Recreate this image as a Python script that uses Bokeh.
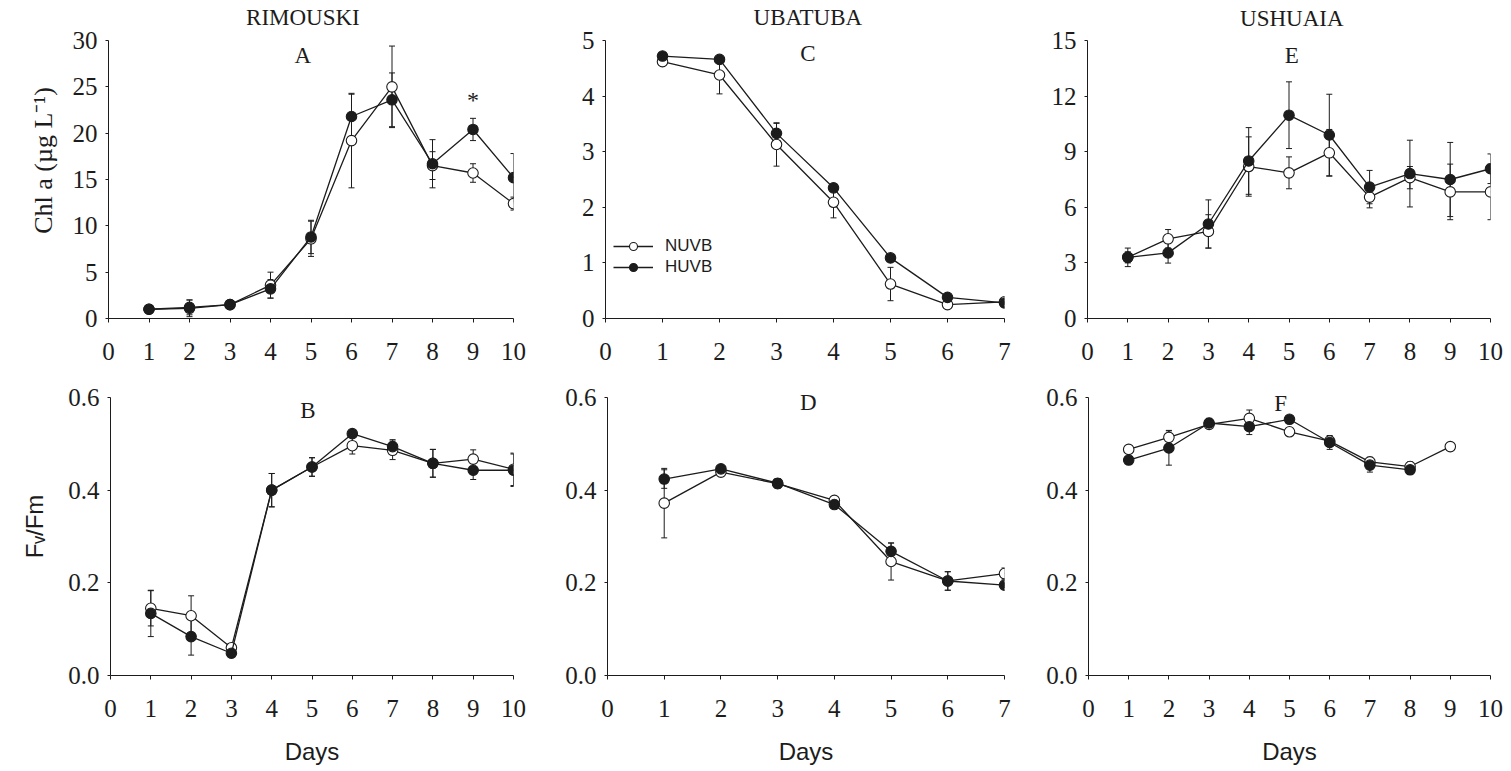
from bokeh.plotting import figure
from bokeh.models import (Range1d, FixedTicker, PrintfTickFormatter, Whisker,
                          ColumnDataSource, Label, Legend, LegendItem)
from bokeh.layouts import row, column
from bokeh.embed import file_html
from bokeh.resources import INLINE

# ---------------- data ----------------
days10 = [1, 2, 3, 4, 5, 6, 7, 8, 9, 10]
days7 = [1, 2, 3, 4, 5, 6, 7]
days9 = [1, 2, 3, 4, 5, 6, 7, 8, 9]
days8 = [1, 2, 3, 4, 5, 6, 7, 8]

# A: Rimouski Chl a
A_nuvb = [1.0, 1.1, 1.5, 3.6, 8.6, 19.2, 25.0, 16.5, 15.7, 12.4]
A_nuvb_err = [0.3, 0.9, 0.3, 1.4, 1.9, 5.1, 4.4, 1.5, 1.0, 0.7]
A_huvb = [1.0, 1.2, 1.5, 3.2, 8.8, 21.8, 23.6, 16.7, 20.4, 15.2]
A_huvb_err = [0.3, 0.8, 0.4, 1.0, 1.8, 2.4, 2.9, 2.6, 1.2, 2.6]

# C: Ubatuba Chl a
C_nuvb = [4.62, 4.38, 3.13, 2.09, 0.62, 0.25, 0.30]
C_nuvb_err = [0.03, 0.34, 0.39, 0.28, 0.30, 0.03, 0.05]
C_huvb = [4.72, 4.66, 3.33, 2.35, 1.09, 0.38, 0.28]
C_huvb_err = [0.03, 0.05, 0.18, 0.05, 0.05, 0.05, 0.03]

# E: Ushuaia Chl a
E_nuvb = [3.3, 4.3, 4.7, 8.2, 7.86, 8.94, 6.55, 7.6, 6.83, 6.83]
E_nuvb_err = [0.3, 0.5, 0.9, 1.6, 0.86, 1.26, 0.58, 0.6, 1.5, 1.5]
E_huvb = [3.3, 3.54, 5.1, 8.5, 10.97, 9.9, 7.09, 7.82, 7.5, 8.08]
E_huvb_err = [0.5, 0.55, 1.3, 1.8, 1.8, 2.2, 0.9, 1.8, 2.0, 0.8]

# B: Rimouski Fv/Fm
B_nuvb = [0.145, 0.129, 0.060, 0.400, 0.450, 0.496, 0.486, 0.458, 0.467, 0.445]
B_nuvb_err = [0.038, 0.043, 0.005, 0.036, 0.02, 0.018, 0.02, 0.03, 0.02, 0.035]
B_huvb = [0.134, 0.084, 0.048, 0.400, 0.450, 0.522, 0.494, 0.458, 0.443, 0.443]
B_huvb_err = [0.05, 0.04, 0.005, 0.036, 0.02, 0.005, 0.015, 0.03, 0.02, 0.035]

# D: Ubatuba Fv/Fm
D_nuvb = [0.372, 0.439, 0.414, 0.378, 0.246, 0.204, 0.220]
D_nuvb_err = [0.075, 0.005, 0.01, 0.005, 0.04, 0.02, 0.012]
D_huvb = [0.424, 0.446, 0.415, 0.369, 0.268, 0.204, 0.195]
D_huvb_err = [0.02, 0.005, 0.01, 0.005, 0.018, 0.02, 0.005]

# F: Ushuaia Fv/Fm
F_nuvb = [0.488, 0.514, 0.542, 0.555, 0.526, 0.506, 0.461, 0.451, 0.494]
F_nuvb_err = [0.005, 0.015, 0.005, 0.018, 0.005, 0.01, 0.01, 0.01, 0.0]
F_huvb = [0.465, 0.491, 0.545, 0.537, 0.553, 0.503, 0.454, 0.444]
F_huvb_err = [0.005, 0.037, 0.01, 0.017, 0.005, 0.015, 0.015, 0.01]

ticks_x10 = [0, 1, 2, 3, 4, 5, 6, 7, 8, 9, 10]
ticks_x7 = [0, 1, 2, 3, 4, 5, 6, 7]
ticks_A = [0, 5, 10, 15, 20, 25, 30]
ticks_C = [0, 1, 2, 3, 4, 5]
ticks_E = [0, 3, 6, 9, 12, 15]
ticks_F = [0.0, 0.2, 0.4, 0.6]

SERIF = "Liberation Serif"
SANS = "Liberation Sans"
INK = "#1c1c1c"

AXIS_H = 278  # pixel height of the drawn y axis in every panel


def panel(width, height, bl, br, bt, bb, xmax, ymax, xticks, yticks,
          yfmt=None, ylabel=None, xlabel=None):
    frame_h = height - bt - bb
    ytop = ymax * frame_h / AXIS_H  # extra headroom for titles
    p = figure(width=width, height=height, output_backend="svg",
               toolbar_location=None,
               x_range=Range1d(0, xmax), y_range=Range1d(0, ytop),
               min_border_left=bl, min_border_right=br,
               min_border_top=bt, min_border_bottom=bb)
    p.outline_line_color = None
    p.grid.visible = False
    p.background_fill_color = "white"
    p.border_fill_color = "white"
    for ax in (p.xaxis[0], p.yaxis[0]):
        ax.axis_line_color = INK
        ax.axis_line_width = 1
        ax.major_tick_line_color = INK
        ax.minor_tick_line_color = None
        ax.major_tick_in = 0
        ax.major_label_text_font = SERIF
        ax.major_label_text_font_size = "25px"
        ax.major_label_text_color = INK
    p.xaxis[0].ticker = FixedTicker(ticks=xticks)
    p.xaxis[0].major_tick_out = 4
    p.xaxis[0].major_label_standoff = 20
    p.yaxis[0].ticker = FixedTicker(ticks=yticks)
    p.yaxis[0].bounds = (0, ymax)
    p.yaxis[0].major_tick_out = 3
    p.yaxis[0].major_label_standoff = 8
    if yfmt:
        p.yaxis[0].formatter = PrintfTickFormatter(format=yfmt)
    if ylabel:
        p.yaxis[0].axis_label = ylabel[0]
        p.yaxis[0].axis_label_text_font = ylabel[1]
        p.yaxis[0].axis_label_text_font_size = ylabel[2]
        p.yaxis[0].axis_label_text_font_style = "normal"
        p.yaxis[0].axis_label_text_color = INK
        p.yaxis[0].axis_label_standoff = ylabel[3]
    if xlabel:
        p.xaxis[0].axis_label = xlabel
        p.xaxis[0].axis_label_text_font = SANS
        p.xaxis[0].axis_label_text_font_size = "24px"
        p.xaxis[0].axis_label_text_font_style = "normal"
        p.xaxis[0].axis_label_text_color = INK
        p.xaxis[0].axis_label_standoff = 18
    return p


def series(p, x, y, err, filled):
    src = ColumnDataSource(dict(x=x, y=y,
                                lo=[v - e for v, e in zip(y, err)],
                                hi=[v + e for v, e in zip(y, err)]))
    ln = p.line("x", "y", source=src, line_color=INK, line_width=1.3)
    w = Whisker(base="x", lower="lo", upper="hi", source=src,
                line_color=INK, line_width=1, dimension="height")
    for h in (w.upper_head, w.lower_head):
        h.size = 6
        h.line_color = INK
        h.line_width = 1
    p.add_layout(w)
    sc = p.scatter("x", "y", source=src, size=10.5, marker="circle",
                   line_color=INK, line_width=1.1,
                   fill_color=INK if filled else "white")
    return ln, sc


def text(p, x, y, s, font=SERIF, size="23px"):
    p.add_layout(Label(x=x, y=y, text=s, text_font=font, text_font_size=size,
                       text_align="center", text_baseline="middle",
                       text_color=INK))


# ---------------- top row ----------------
pA = panel(555, 372, 108, 42, 2, 54, 10, 30, ticks_x10, ticks_A,
           ylabel=("Chl a (\u00b5g L\u207b\u00b9)", SERIF, "26px", 12))
series(pA, days10, A_nuvb, A_nuvb_err, False)
series(pA, days10, A_huvb, A_huvb_err, True)
text(pA, 4.8, 32.5, "RIMOUSKI")
text(pA, 4.8, 28.4, "A")
text(pA, 9.0, 23.6, "*", size="24px")

pC = panel(479, 372, 50, 30, 2, 54, 7, 5, ticks_x7, ticks_C)
n_line, n_sc = series(pC, days7, C_nuvb, C_nuvb_err, False)
h_line, h_sc = series(pC, days7, C_huvb, C_huvb_err, True)
text(pC, 3.55, 5.42, "UBATUBA")
text(pC, 3.55, 4.77, "C")
leg = Legend(items=[LegendItem(label="NUVB", renderers=[n_line, n_sc]),
                    LegendItem(label="HUVB", renderers=[h_line, h_sc])],
             location=(8, 41), orientation="vertical",
             padding=0, margin=0, spacing=1,
             glyph_width=40, glyph_height=20, label_standoff=12,
             label_text_font=SANS, label_text_font_size="17px",
             label_text_color=INK,
             border_line_color=None, background_fill_alpha=0)
pC.add_layout(leg, "center")

pE = panel(477, 372, 53, 21, 2, 54, 10, 15, ticks_x10, ticks_E)
series(pE, days10, E_nuvb, E_nuvb_err, False)
series(pE, days10, E_huvb, E_huvb_err, True)
text(pE, 5.07, 16.2, "USHUAIA")
text(pE, 5.07, 14.2, "E")

# ---------------- bottom row ----------------
pB = panel(555, 398, 110, 42, 5, 95, 10, 0.6, ticks_x10, ticks_F,
           yfmt="%.1f", ylabel=("F\u1d65/Fm", SANS, "24px", 17), xlabel="Days")
series(pB, days10, B_nuvb, B_nuvb_err, False)
series(pB, days10, B_huvb, B_huvb_err, True)
text(pB, 4.9, 0.571, "B")

pD = panel(479, 398, 52, 30, 5, 95, 7, 0.6, ticks_x7, ticks_F,
           yfmt="%.1f", xlabel="Days")
series(pD, days7, D_nuvb, D_nuvb_err, False)
series(pD, days7, D_huvb, D_huvb_err, True)
text(pD, 3.54, 0.589, "D")

pF = panel(477, 398, 54, 21, 5, 95, 10, 0.6, ticks_x10, ticks_F,
           yfmt="%.1f", xlabel="Days")
series(pF, days9, F_nuvb, F_nuvb_err, False)
series(pF, days8, F_huvb, F_huvb_err, True)
text(pF, 4.78, 0.587, "F")

layout = column(row(pA, pC, pE), row(pB, pD, pF))

with open("out.html", "w") as f:
    f.write(file_html(layout, INLINE))
